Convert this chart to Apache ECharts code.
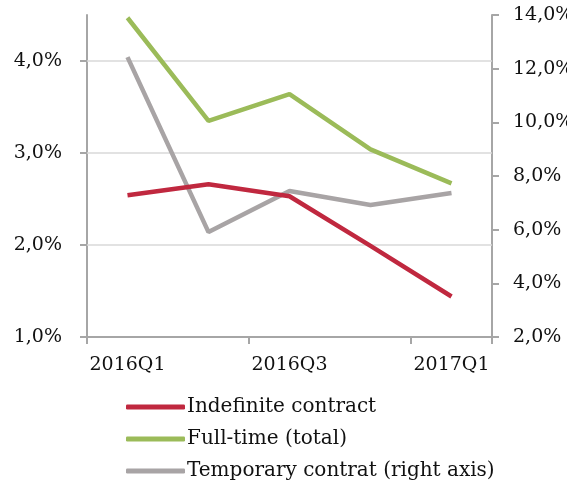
<!DOCTYPE html>
<html>
<head>
<meta charset="utf-8">
<script src="https://cdn.jsdelivr.net/npm/echarts@6/dist/echarts.min.js"></script>
<style>
  html, body { margin: 0; padding: 0; background: #fff; }
  #chart { width: 567px; height: 489px; }
</style>
</head>
<body>
<div id="chart"></div>
<script>
const quarters = ["2016Q1", "2016Q2", "2016Q3", "2016Q4", "2017Q1"];
const indefinite = [2.54, 2.66, 2.53, 1.99, 1.44];
const fullTime = [4.47, 3.35, 3.64, 3.04, 2.67];
const temporary = [12.43, 5.91, 7.44, 6.92, 7.37];
const leftGridLevels = [2, 3, 4];

const serif = "DejaVu Serif";
const axisGray = "#a6a6a6";
const fmt = (v) => v.toFixed(1).replace(".", ",") + "%";

const chart = echarts.init(document.getElementById("chart"));

chart.setOption({
  animation: false,
  grid: { left: 87, right: 75, top: 15, bottom: 152, containLabel: false, outerBoundsMode: "none" },
  legend: {
    orient: "vertical",
    left: 121,
    top: 392,
    itemWidth: 59,
    itemHeight: 5,
    itemGap: 12,
    icon: "roundRect",
    textStyle: { fontFamily: serif, fontSize: 20, color: "#111", padding: [0, 0, 0, -3] },
    data: ["Indefinite contract", "Full-time (total)", "Temporary contrat (right axis)"],
  },
  xAxis: {
    type: "category",
    data: quarters,
    boundaryGap: true,
    axisLine: { lineStyle: { color: axisGray, width: 2 } },
    axisTick: { show: true, length: 7, lineStyle: { color: axisGray, width: 2 } },
    axisLabel: { interval: 1, margin: 19, fontFamily: serif, fontSize: 19, color: "#111" },
  },
  yAxis: [
    {
      type: "value",
      min: 1,
      max: 4.5,
      interval: 1,
      axisLine: { show: true, lineStyle: { color: axisGray, width: 2 } },
      axisTick: { show: true, length: 7, lineStyle: { color: axisGray, width: 2 } },
      splitLine: { show: false },
      axisLabel: {
        showMaxLabel: false,
        margin: 25,
        fontFamily: serif,
        fontSize: 19,
        color: "#111",
        formatter: fmt,
      },
    },
    {
      type: "value",
      min: 2,
      max: 14,
      interval: 2,
      position: "right",
      axisLine: { show: true, lineStyle: { color: axisGray, width: 2 } },
      axisTick: { show: true, length: 7, lineStyle: { color: axisGray, width: 2 } },
      splitLine: { show: false },
      axisLabel: { margin: 21, fontFamily: serif, fontSize: 19, color: "#111", formatter: fmt },
    },
  ],
  series: [
    {
      name: "Indefinite contract",
      type: "line",
      data: indefinite,
      yAxisIndex: 0,
      symbol: "none",
      color: "#c0283f",
      lineStyle: { width: 4.5 },
      z: 3,
      markLine: {
        silent: true,
        symbol: "none",
        label: { show: false },
        lineStyle: { color: "#d9d9d9", width: 1.5, type: "solid" },
        z: 1,
        data: leftGridLevels.map((v) => ({ yAxis: v })),
      },
    },
    {
      name: "Full-time (total)",
      type: "line",
      data: fullTime,
      yAxisIndex: 0,
      symbol: "none",
      color: "#9bbb59",
      lineStyle: { width: 4.5 },
      z: 3,
    },
    {
      name: "Temporary contrat (right axis)",
      type: "line",
      data: temporary,
      yAxisIndex: 1,
      symbol: "none",
      color: "#a8a4a5",
      lineStyle: { width: 4.5 },
      z: 2,
    },
  ],
});
</script>
</body>
</html>
